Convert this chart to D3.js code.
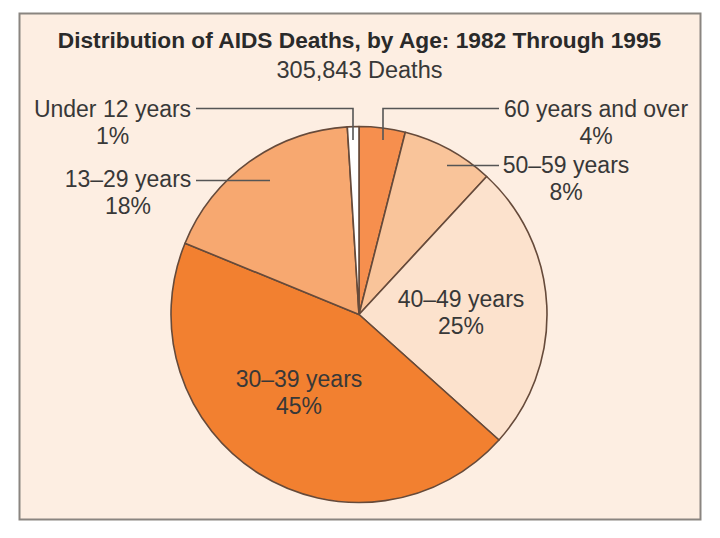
<!DOCTYPE html>
<html>
<head>
<meta charset="utf-8">
<script src="https://cdn.jsdelivr.net/npm/d3@7"></script>
<style>
  html, body { margin: 0; padding: 0; background: #ffffff; }
  svg { display: block; }
  text { font-family: "Liberation Sans", Arial, Helvetica, sans-serif; }
</style>
</head>
<body>
<svg id="chart" width="720" height="538"></svg>
<script>
// ---- data ----
const categories = ["60 years and over", "50\u201359 years", "40\u201349 years", "30\u201339 years", "13\u201329 years", "Under 12 years"];
const percents   = [4, 8, 25, 45, 18, 1];
const pctLabels  = ["4%", "8%", "25%", "45%", "18%", "1%"];
const title      = "Distribution of AIDS Deaths, by Age: 1982 Through 1995";
const subtitle   = "305,843 Deaths";

// ---- styles / layout ----
const colors = ["#F68F4E", "#F9C49A", "#FCE2CD", "#F28030", "#F7A870", "#FFFFFF"];
const W = 720, H = 538;
const cx = 359, cy = 314.5, R = 188;
const labelSize = 23;

// label layout: [centre x, first-line baseline y], leader polyline
const labelLayout = [
  { x: 596, y: 117, line: [[383,140],[383,108.5],[499,108.5]] },
  { x: 566, y: 173, line: [[447,165.5],[499,165.5]] },
  { x: 461, y: 307, line: null },
  { x: 299, y: 387, line: null },
  { x: 128, y: 187, line: [[270,180.5],[196,180.5]] },
  { x: 112.5, y: 117, line: [[353,140],[353,108.5],[196,108.5]] }
];

const svg = d3.select("#chart");

// panel
svg.append("rect")
  .attr("x", 19.5).attr("y", 13.5).attr("width", 681).attr("height", 506)
  .attr("fill", "#FDEEE2").attr("stroke", "#8a8580").attr("stroke-width", 2);

// title
svg.append("text")
  .attr("x", 359.5).attr("y", 48)
  .attr("text-anchor", "middle")
  .attr("font-size", 22.7).attr("font-weight", "bold")
  .attr("fill", "#2a2a2a")
  .text(title);
svg.append("text")
  .attr("x", 359.5).attr("y", 78)
  .attr("text-anchor", "middle")
  .attr("font-size", 23.5)
  .attr("fill", "#383838")
  .text(subtitle);

// pie
const data = categories.map((c, i) => ({ cat: c, value: percents[i], pct: pctLabels[i], color: colors[i], layout: labelLayout[i] }));
const pie = d3.pie().value(d => d.value).sort(null);
const arc = d3.arc().innerRadius(0).outerRadius(R);

const g = svg.append("g").attr("transform", `translate(${cx},${cy})`);
g.selectAll("path.slice")
  .data(pie(data))
  .join("path")
  .attr("class", "slice")
  .attr("d", arc)
  .attr("fill", d => d.data.color)
  .attr("stroke", "#664a3a")
  .attr("stroke-width", 1.6)
  .attr("stroke-linejoin", "round");

// leader lines
const line = d3.line();
svg.selectAll("path.leader")
  .data(data.filter(d => d.layout.line))
  .join("path")
  .attr("class", "leader")
  .attr("d", d => line(d.layout.line))
  .attr("fill", "none")
  .attr("stroke", "#555555")
  .attr("stroke-width", 1.6);

// labels
const lab = svg.selectAll("g.label")
  .data(data)
  .join("g")
  .attr("class", "label");
lab.append("text")
  .attr("x", d => d.layout.x).attr("y", d => d.layout.y)
  .attr("text-anchor", "middle")
  .attr("font-size", labelSize)
  .attr("fill", "#383838")
  .text(d => d.cat);
lab.append("text")
  .attr("x", d => d.layout.x).attr("y", d => d.layout.y + 26.5)
  .attr("text-anchor", "middle")
  .attr("font-size", labelSize)
  .attr("fill", "#383838")
  .text(d => d.pct);
</script>
</body>
</html>
